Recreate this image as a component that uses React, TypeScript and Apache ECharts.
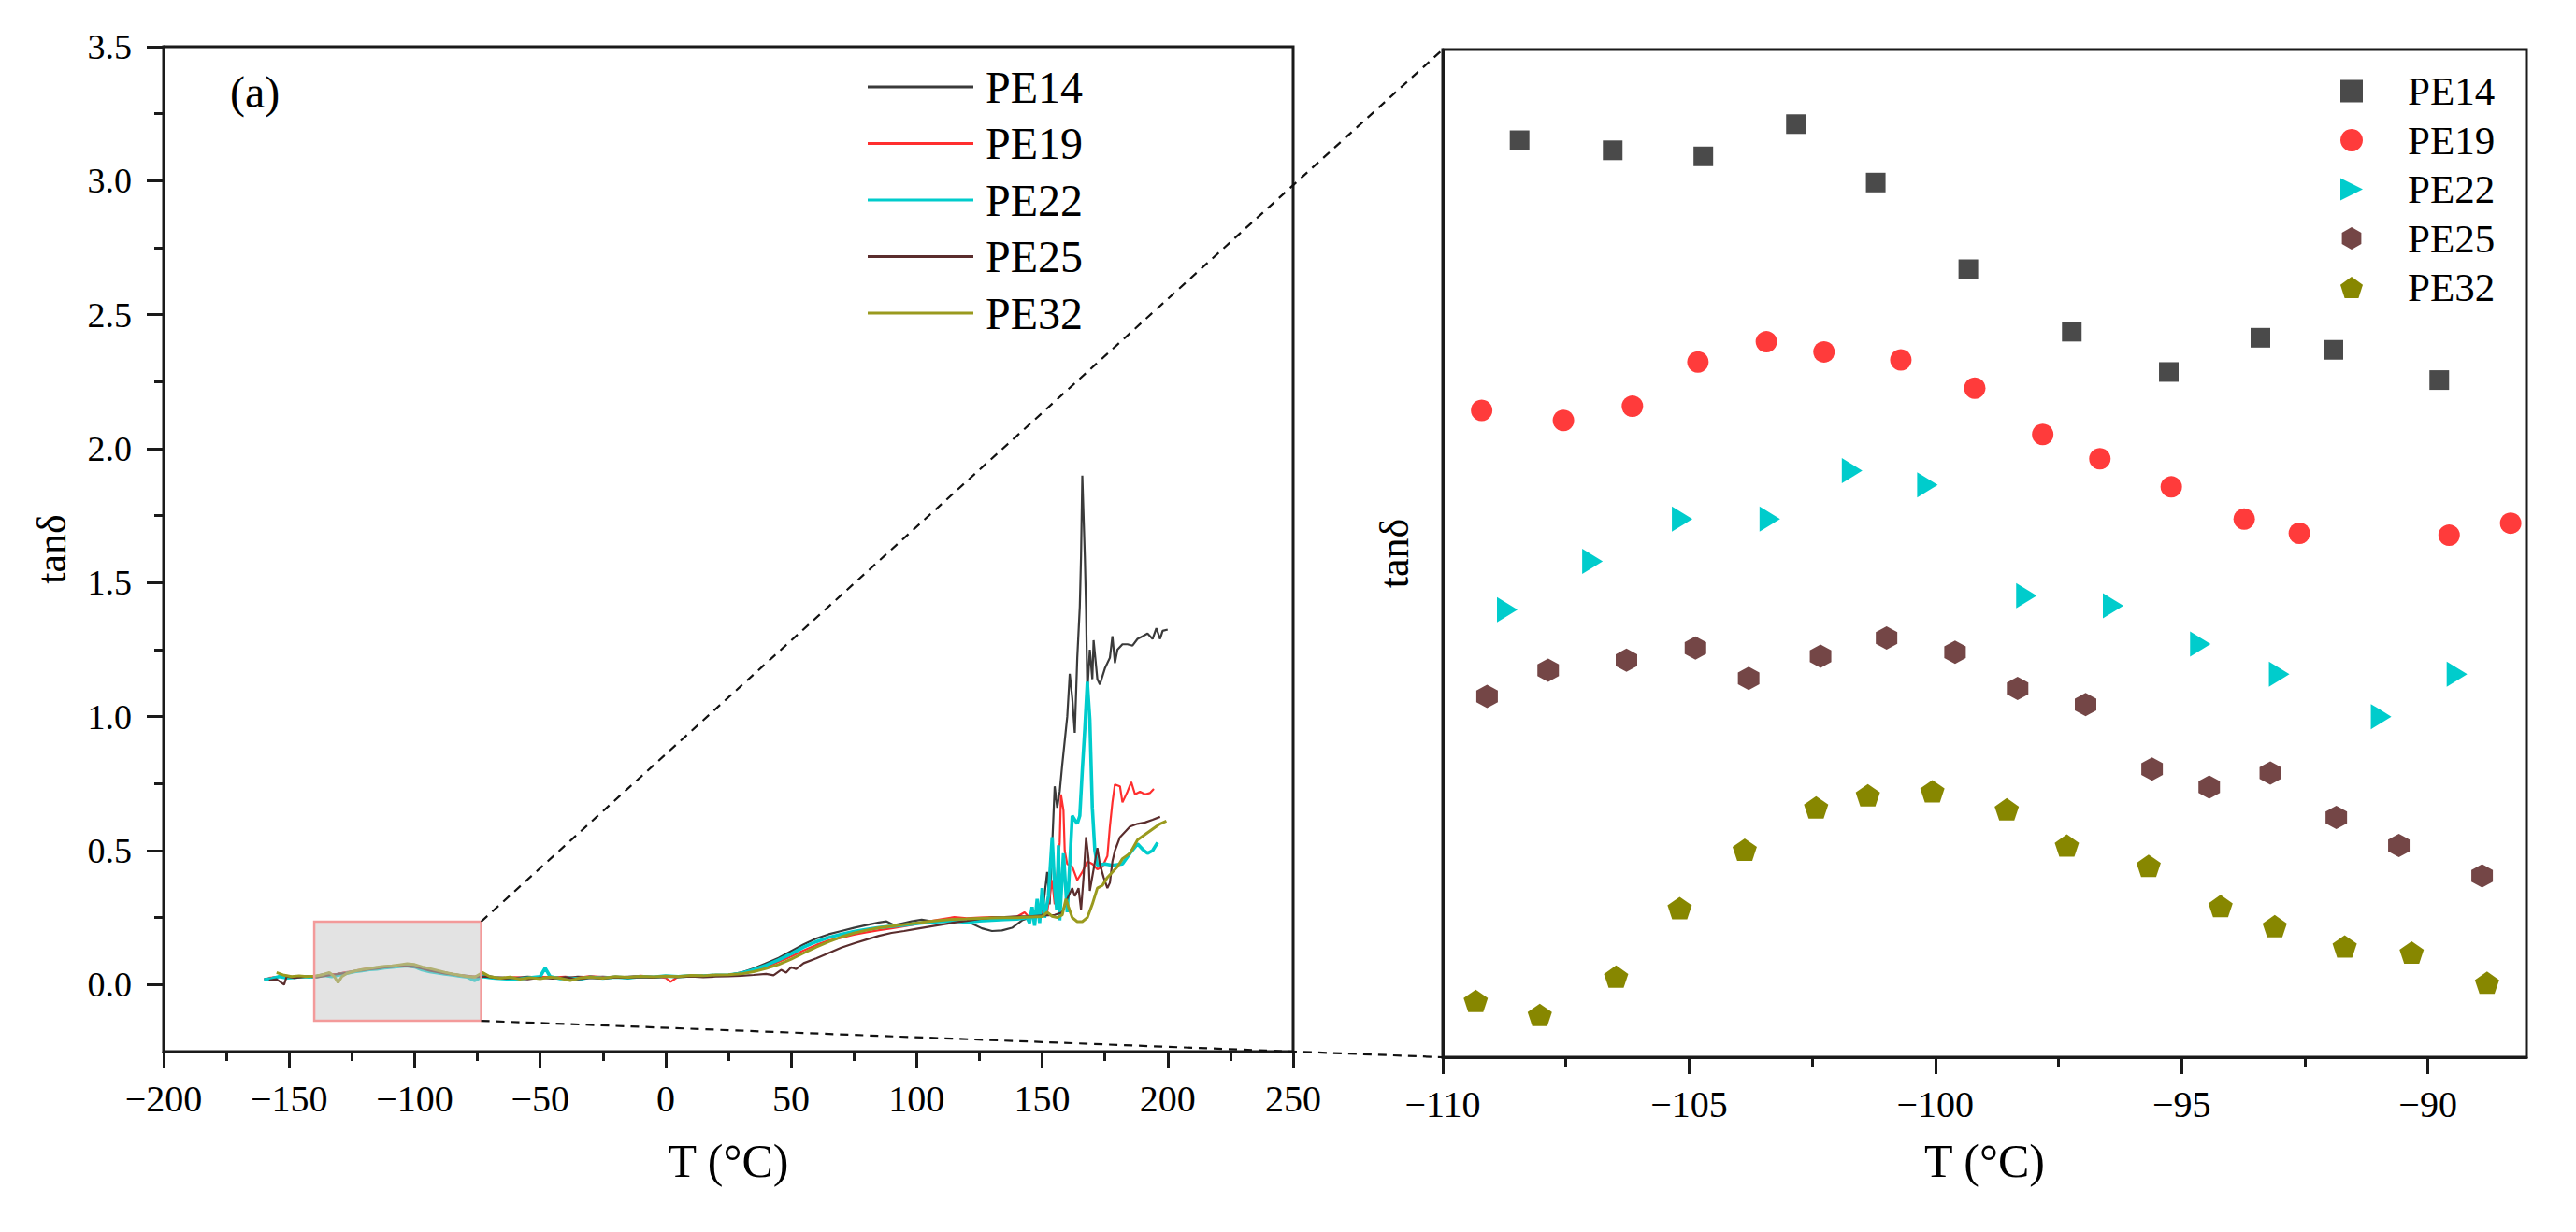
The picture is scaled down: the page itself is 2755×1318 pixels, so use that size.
import { useEffect, useRef } from 'react'
import * as echarts from 'echarts'

const FONT = 'Liberation Serif'

const seriesNames = ['PE14', 'PE19', 'PE22', 'PE25', 'PE32']
const lineColors = ['#3a3a3a', '#ff2e2e', '#00cccc', '#5a2d2d', '#9a9a1e']
const lineWidths = [2.2, 2.2, 3.6, 2.2, 3]
const markerColors = ['#4a4a4a', '#ff3b3b', '#00cccc', '#744646', '#878700']

// full-range curves, [T (°C), tanδ]
const pe14Curve: [number, number][] = [
  [-160, 0.02], [-157, 0.025], [-154, 0.03], [-151, 0.028], [-148, 0.03], [-145, 0.032], [-142, 0.03], [-139, 0.033],
  [-136, 0.04], [-133, 0.035], [-130, 0.042], [-127, 0.045], [-124, 0.05], [-121, 0.053], [-118, 0.058], [-115, 0.06],
  [-112, 0.063], [-109, 0.066], [-106, 0.069], [-103, 0.072], [-100, 0.07], [-97, 0.062], [-94, 0.055], [-91, 0.05],
  [-88, 0.045], [-85, 0.04], [-82, 0.036], [-79, 0.033], [-76, 0.03], [-72, 0.035], [-68, 0.028], [-64, 0.026],
  [-60, 0.025], [-55, 0.03], [-50, 0.027], [-45, 0.028], [-40, 0.025], [-35, 0.03], [-30, 0.028], [-25, 0.03],
  [-20, 0.027], [-15, 0.03], [-10, 0.032], [-5, 0.028], [0, 0.03], [5, 0.031], [10, 0.03], [15, 0.033], [20, 0.035],
  [25, 0.036], [30, 0.045], [35, 0.06], [40, 0.08], [45, 0.1], [50, 0.125], [55, 0.15], [60, 0.172], [65, 0.188],
  [70, 0.2], [75, 0.212], [80, 0.222], [85, 0.232], [88, 0.236], [91, 0.222], [94, 0.228], [98, 0.236], [102, 0.242],
  [106, 0.236], [110, 0.234], [114, 0.238], [118, 0.236], [122, 0.228], [126, 0.21], [130, 0.2], [134, 0.202],
  [138, 0.212], [142, 0.24], [145, 0.25], [148, 0.26], [150, 0.255], [152, 0.42], [153, 0.3], [155, 0.74], [156, 0.66],
  [157, 0.72], [158, 0.82], [160, 1.0], [161, 1.16], [162, 1.07], [163, 0.94], [164, 1.22], [165, 1.41], [165.5, 1.6],
  [166, 1.9], [167, 1.6], [167.5, 1.4], [168, 1.09], [169, 1.25], [170, 1.14], [170.5, 1.285], [172, 1.14],
  [173, 1.12], [175, 1.18], [177, 1.22], [178, 1.3], [179, 1.2], [180, 1.25], [182, 1.27], [184, 1.27], [186, 1.265],
  [188, 1.29], [190, 1.3], [192, 1.31], [194, 1.29], [195.5, 1.33], [197, 1.29], [198, 1.32], [200, 1.325],
]

const pe19Curve: [number, number][] = [
  [-158, 0.025], [-155, 0.028], [-152, 0.035], [-149, 0.03], [-146, 0.028], [-143, 0.032], [-140, 0.03], [-137, 0.034],
  [-134, 0.04], [-131, 0.038], [-128, 0.045], [-125, 0.05], [-122, 0.055], [-119, 0.06], [-116, 0.062], [-113, 0.065],
  [-110, 0.067], [-107, 0.07], [-104, 0.072], [-101, 0.07], [-98, 0.063], [-95, 0.058], [-92, 0.05], [-89, 0.046],
  [-86, 0.042], [-83, 0.037], [-80, 0.033], [-77, 0.03], [-73, 0.032], [-69, 0.027], [-65, 0.025], [-60, 0.028],
  [-55, 0.024], [-50, 0.03], [-45, 0.027], [-40, 0.03], [-35, 0.025], [-30, 0.032], [-25, 0.028], [-20, 0.03],
  [-15, 0.027], [-10, 0.033], [-5, 0.03], [0, 0.025], [2, 0.01], [5, 0.03], [10, 0.032], [15, 0.03], [20, 0.034],
  [25, 0.035], [30, 0.04], [35, 0.05], [40, 0.065], [45, 0.085], [50, 0.105], [55, 0.128], [60, 0.148], [65, 0.165],
  [70, 0.175], [75, 0.186], [80, 0.195], [85, 0.203], [90, 0.21], [95, 0.218], [100, 0.226], [105, 0.236],
  [110, 0.244], [115, 0.252], [120, 0.248], [125, 0.25], [130, 0.252], [135, 0.25], [140, 0.254], [143, 0.27],
  [145, 0.25], [148, 0.262], [150, 0.27], [152, 0.27], [154, 0.39], [155, 0.3], [157, 0.53], [157.5, 0.71],
  [158.5, 0.65], [159, 0.5], [160, 0.45], [162, 0.44], [164, 0.39], [166, 0.42], [168, 0.46], [170, 0.45],
  [172, 0.43], [174, 0.44], [176, 0.48], [177, 0.59], [178, 0.68], [179, 0.747], [181, 0.74], [182, 0.68],
  [184, 0.72], [185.5, 0.756], [187, 0.71], [189, 0.72], [191, 0.71], [193, 0.715], [194.5, 0.73],
]

const pe22Curve: [number, number][] = [
  [-160, 0.018], [-157, 0.022], [-154, 0.03], [-151, 0.025], [-148, 0.027], [-145, 0.03], [-142, 0.028], [-139, 0.03],
  [-136, 0.034], [-133, 0.03], [-130, 0.036], [-127, 0.042], [-124, 0.048], [-121, 0.052], [-118, 0.056], [-115, 0.058],
  [-112, 0.062], [-109, 0.065], [-106, 0.068], [-103, 0.07], [-100, 0.066], [-97, 0.055], [-94, 0.048], [-91, 0.044],
  [-88, 0.04], [-85, 0.036], [-82, 0.032], [-79, 0.028], [-76, 0.015], [-73, 0.03], [-69, 0.025], [-65, 0.022],
  [-60, 0.02], [-55, 0.025], [-50, 0.03], [-48, 0.062], [-46, 0.03], [-42, 0.022], [-38, 0.025], [-34, 0.02],
  [-30, 0.028], [-25, 0.024], [-20, 0.028], [-15, 0.025], [-10, 0.03], [-5, 0.028], [0, 0.032], [5, 0.03],
  [10, 0.033], [15, 0.032], [20, 0.035], [25, 0.036], [30, 0.042], [35, 0.055], [40, 0.072], [45, 0.092],
  [50, 0.115], [55, 0.14], [60, 0.16], [65, 0.176], [70, 0.188], [75, 0.198], [80, 0.206], [85, 0.213], [90, 0.218],
  [95, 0.222], [100, 0.228], [105, 0.232], [110, 0.236], [115, 0.238], [120, 0.232], [125, 0.238], [130, 0.24],
  [135, 0.243], [140, 0.245], [144, 0.25], [145, 0.23], [146, 0.29], [147, 0.22], [148, 0.32], [149, 0.23],
  [150, 0.36], [151, 0.25], [152.5, 0.33], [154, 0.55], [155, 0.36], [155.8, 0.28], [156.5, 0.52], [157, 0.24],
  [158.5, 0.49], [160, 0.27], [161, 0.45], [162, 0.63], [164, 0.6], [165, 0.63], [166, 0.8], [167, 0.955],
  [168, 1.13], [169, 0.99], [170, 0.66], [171, 0.5], [172, 0.445], [175, 0.45], [178, 0.445], [182, 0.45],
  [185, 0.49], [188, 0.525], [190, 0.505], [192, 0.49], [194, 0.5], [196, 0.53],
]

const pe25Curve: [number, number][] = [
  [-158, 0.015], [-155, 0.02], [-152, 0.0], [-151, 0.03], [-148, 0.025], [-145, 0.028], [-142, 0.03], [-139, 0.027],
  [-136, 0.032], [-133, 0.036], [-130, 0.04], [-127, 0.044], [-124, 0.05], [-121, 0.053], [-118, 0.057], [-115, 0.06],
  [-112, 0.064], [-109, 0.066], [-106, 0.07], [-103, 0.068], [-100, 0.066], [-97, 0.06], [-94, 0.052], [-91, 0.047],
  [-88, 0.042], [-85, 0.038], [-82, 0.034], [-79, 0.03], [-76, 0.028], [-72, 0.03], [-68, 0.025], [-64, 0.022],
  [-60, 0.025], [-55, 0.02], [-50, 0.026], [-45, 0.022], [-40, 0.028], [-35, 0.02], [-30, 0.025], [-25, 0.022],
  [-20, 0.027], [-15, 0.025], [-10, 0.028], [-5, 0.026], [0, 0.03], [5, 0.028], [10, 0.03], [15, 0.028], [20, 0.03],
  [25, 0.031], [30, 0.033], [35, 0.036], [40, 0.04], [43, 0.035], [46, 0.055], [48, 0.045], [50, 0.065], [52, 0.058],
  [55, 0.08], [60, 0.098], [65, 0.118], [70, 0.138], [75, 0.154], [80, 0.168], [85, 0.182], [90, 0.193], [95, 0.2],
  [100, 0.208], [105, 0.216], [110, 0.224], [115, 0.232], [120, 0.238], [125, 0.245], [130, 0.25], [135, 0.252],
  [140, 0.255], [145, 0.255], [150, 0.258], [155, 0.26], [158, 0.27], [160, 0.32], [162, 0.36], [163, 0.33],
  [164.5, 0.36], [165.5, 0.28], [166.5, 0.4], [167.5, 0.55], [168.5, 0.47], [169, 0.35], [170.5, 0.43], [172, 0.51],
  [173, 0.45], [174.5, 0.4], [176, 0.36], [177, 0.38], [178, 0.46], [179, 0.5], [181, 0.55], [183, 0.57],
  [185, 0.59], [188, 0.6], [191, 0.605], [194, 0.615], [197, 0.626],
]

const pe32Curve: [number, number][] = [
  [-155, 0.045], [-152, 0.035], [-149, 0.03], [-146, 0.033], [-143, 0.03], [-140, 0.032], [-137, 0.036], [-134, 0.045],
  [-132, 0.03], [-130.5, 0.007], [-129, 0.03], [-127, 0.042], [-124, 0.05], [-121, 0.056], [-118, 0.06], [-115, 0.065],
  [-112, 0.068], [-109, 0.07], [-106, 0.074], [-103, 0.078], [-100, 0.075], [-97, 0.066], [-94, 0.06], [-91, 0.053],
  [-88, 0.046], [-85, 0.04], [-82, 0.035], [-79, 0.03], [-76, 0.028], [-73, 0.045], [-70, 0.03], [-66, 0.024],
  [-62, 0.028], [-58, 0.02], [-54, 0.026], [-50, 0.022], [-46, 0.028], [-42, 0.024], [-38, 0.015], [-34, 0.025],
  [-30, 0.028], [-25, 0.024], [-20, 0.03], [-15, 0.027], [-10, 0.031], [-5, 0.029], [0, 0.032], [5, 0.03],
  [10, 0.034], [15, 0.033], [20, 0.036], [25, 0.037], [30, 0.04], [35, 0.048], [40, 0.06], [45, 0.075], [50, 0.095],
  [55, 0.118], [60, 0.14], [65, 0.16], [70, 0.178], [75, 0.192], [80, 0.203], [85, 0.212], [90, 0.218], [95, 0.224],
  [100, 0.23], [105, 0.236], [110, 0.24], [115, 0.244], [120, 0.245], [125, 0.247], [130, 0.249], [135, 0.25],
  [140, 0.25], [145, 0.252], [150, 0.254], [152, 0.27], [154, 0.255], [156, 0.25], [158, 0.26], [159.5, 0.32],
  [160.5, 0.29], [162, 0.25], [164, 0.235], [166, 0.235], [168, 0.25], [170, 0.3], [172, 0.36], [174, 0.37],
  [176, 0.4], [178, 0.42], [180, 0.44], [182, 0.47], [185, 0.49], [188, 0.54], [191, 0.56], [194, 0.58],
  [197, 0.6], [199.5, 0.61],
]

// zoomed window, [T (°C), tanδ]
const pe14Inset: [number, number][] = [
  [-108.44, 0.0755], [-106.55, 0.075], [-104.71, 0.0747], [-102.83, 0.0763], [-101.21, 0.0734], [-99.33, 0.0691],
  [-97.23, 0.066], [-95.26, 0.064], [-93.4, 0.0657], [-91.92, 0.0651], [-89.77, 0.0636],
]
const pe19Inset: [number, number][] = [
  [-109.21, 0.0621], [-107.55, 0.0616], [-106.15, 0.0623], [-104.82, 0.0645], [-103.43, 0.0655], [-102.26, 0.065],
  [-100.7, 0.0646], [-99.2, 0.0632], [-97.82, 0.0609], [-96.66, 0.0597], [-95.21, 0.0583], [-93.73, 0.0567],
  [-92.61, 0.056], [-89.57, 0.0559], [-88.32, 0.0565],
]
const pe22Inset: [number, number][] = [
  [-108.69, 0.0522], [-106.96, 0.0546], [-105.14, 0.0567], [-103.36, 0.0567], [-101.69, 0.0591], [-100.16, 0.0584],
  [-98.15, 0.0529], [-96.39, 0.0524], [-94.62, 0.0505], [-93.02, 0.049], [-90.95, 0.0469], [-89.41, 0.049],
]
const pe25Inset: [number, number][] = [
  [-109.1, 0.0479], [-107.86, 0.0492], [-106.27, 0.0497], [-104.87, 0.0503], [-103.79, 0.0488], [-102.33, 0.0499],
  [-100.99, 0.0508], [-99.6, 0.0501], [-98.33, 0.0483], [-96.95, 0.0475], [-95.6, 0.0443], [-94.44, 0.0434],
  [-93.2, 0.0441], [-91.86, 0.0419], [-90.59, 0.0405], [-88.9, 0.039],
]
const pe32Inset: [number, number][] = [
  [-109.33, 0.0328], [-108.03, 0.0321], [-106.48, 0.034], [-105.19, 0.0374], [-103.87, 0.0403], [-102.42, 0.0424],
  [-101.37, 0.043], [-100.06, 0.0432], [-98.55, 0.0423], [-97.33, 0.0405], [-95.67, 0.0395], [-94.21, 0.0375],
  [-93.11, 0.0365], [-91.69, 0.0355], [-90.33, 0.0352], [-88.8, 0.0337],
]

const curves = [pe14Curve, pe19Curve, pe22Curve, pe25Curve, pe32Curve]
const insets = [pe14Inset, pe19Inset, pe22Inset, pe25Inset, pe32Inset]

// axis ranges and ticks
const tRange = [-200, 250]
const tanRange = [-0.25, 3.5]
const tanTicks = [0, 0.5, 1, 1.5, 2, 2.5, 3, 3.5]
const tanMinorTicks = [0.25, 0.75, 1.25, 1.75, 2.25, 2.75, 3.25]
const insetTRange = [-110, -88]
const insetTanRange = [0.03, 0.08]
const insetTTicks = [-110, -105, -100, -95, -90]
const insetTMinorTicks = [-107.5, -102.5, -97.5, -92.5]
// shaded region in (a)
const zoomBoxT = [-140, -73.5]
const zoomBoxTan = [-0.135, 0.235]

const insetSymbols = [
  'rect',
  'circle',
  'path://M0,0L1,0.5L0,1Z',
  'path://M50,0L93.3,25L93.3,75L50,100L6.7,75L6.7,25Z',
  'path://M50,0L97.6,34.5L79.4,90.5L20.6,90.5L2.4,34.5Z',
]
const insetSizes: (number | number[])[] = [21, 23, [22, 27], [23, 25], [26, 24]]

const minus = (v: number) => String(v).replace('-', '\u2212')
const axisLine = { show: true, onZero: false, lineStyle: { color: '#1a1a1a', width: 3 } }
const tickStyle = { color: '#1a1a1a', width: 3 }
const labelFont = { fontFamily: FONT, color: '#000' }

export default function App() {
  const chartRef = useRef<HTMLDivElement>(null)

  useEffect(() => {
    document.body.style.margin = '0'
    if (!chartRef.current) return
    const chart = echarts.init(chartRef.current, undefined, { renderer: 'svg' })

    const lineSeries = seriesNames.map((name, i) => ({
      name,
      type: 'line',
      xAxisIndex: 0,
      yAxisIndex: 0,
      symbol: 'none',
      data: curves[i],
      lineStyle: { color: lineColors[i], width: lineWidths[i] },
      itemStyle: { color: lineColors[i] },
    }))

    const scatterSeries = seriesNames.map((name, i) => ({
      name: name + ' (b)',
      type: 'scatter',
      xAxisIndex: 1,
      yAxisIndex: 2,
      symbol: insetSymbols[i],
      symbolSize: insetSizes[i],
      data: insets[i],
      itemStyle: { color: markerColors[i], opacity: 1 },
    }))

    chart.setOption({
      animation: false,
      backgroundColor: '#fff',
      grid: [
        { left: 175, top: 50, width: 1208, height: 1075, show: true, borderColor: '#1a1a1a', borderWidth: 3 },
        { left: 1543, top: 53, width: 1159, height: 1078, show: true, borderColor: '#1a1a1a', borderWidth: 3 },
      ],
      xAxis: [
        {
          type: 'value',
          gridIndex: 0,
          position: 'bottom',
          min: tRange[0],
          max: tRange[1],
          interval: 50,
          axisLine,
          axisTick: { show: true, length: 18, lineStyle: tickStyle },
          minorTick: { show: true, splitNumber: 2, length: 10, lineStyle: tickStyle },
          splitLine: { show: false },
          axisLabel: { ...labelFont, fontSize: 40, margin: 30, formatter: minus },
          name: 'T (°C)',
          nameLocation: 'middle',
          nameGap: 92,
          nameTextStyle: { ...labelFont, fontSize: 50 },
        },
        {
          type: 'value',
          gridIndex: 1,
          position: 'bottom',
          min: insetTRange[0],
          max: insetTRange[1],
          axisLine,
          axisTick: { show: true, length: 18, lineStyle: tickStyle, customValues: insetTTicks },
          splitLine: { show: false },
          axisLabel: { ...labelFont, fontSize: 40, margin: 30, formatter: minus, customValues: insetTTicks },
          name: 'T (°C)',
          nameLocation: 'middle',
          nameGap: 86,
          nameTextStyle: { ...labelFont, fontSize: 50 },
        },
        {
          type: 'value',
          gridIndex: 1,
          position: 'bottom',
          min: insetTRange[0],
          max: insetTRange[1],
          axisLine: { show: false, onZero: false },
          axisTick: { show: true, length: 10, lineStyle: tickStyle, customValues: insetTMinorTicks },
          splitLine: { show: false },
          axisLabel: { show: false },
        },
      ],
      yAxis: [
        {
          type: 'value',
          gridIndex: 0,
          position: 'left',
          min: tanRange[0],
          max: tanRange[1],
          interval: 0.25,
          axisLine,
          axisTick: { show: true, length: 18, lineStyle: tickStyle, customValues: tanTicks },
          splitLine: { show: false },
          axisLabel: {
            ...labelFont,
            fontSize: 38,
            margin: 34,
            customValues: tanTicks,
            formatter: (v: number) => v.toFixed(1),
          },
          name: 'tanδ',
          nameLocation: 'middle',
          nameGap: 98,
          nameRotate: 90,
          nameTextStyle: { ...labelFont, fontSize: 44 },
        },
        {
          type: 'value',
          gridIndex: 0,
          position: 'left',
          min: tanRange[0],
          max: tanRange[1],
          interval: 0.25,
          axisLine: { show: false, onZero: false },
          axisTick: { show: true, length: 10, lineStyle: tickStyle, customValues: tanMinorTicks },
          splitLine: { show: false },
          axisLabel: { show: false },
        },
        {
          type: 'value',
          gridIndex: 1,
          position: 'left',
          min: insetTanRange[0],
          max: insetTanRange[1],
          axisLine,
          axisTick: { show: false },
          splitLine: { show: false },
          axisLabel: { show: false },
          name: 'tanδ',
          nameLocation: 'middle',
          nameGap: 30,
          nameRotate: 90,
          nameTextStyle: { ...labelFont, fontSize: 44 },
        },
      ],
      legend: [
        {
          data: seriesNames.map((name) => ({ name, icon: 'rect' })),
          orient: 'vertical',
          left: 923,
          top: 64,
          itemWidth: 113,
          itemHeight: 3,
          itemGap: 12.5,
          selectedMode: false,
          textStyle: { ...labelFont, fontSize: 48, lineHeight: 48, padding: [0, 0, 0, 8] },
        },
        {
          data: scatterSeries.map((s) => s.name),
          formatter: (n: string) => n.split(' ')[0],
          orient: 'vertical',
          left: 2498,
          top: 71,
          itemWidth: 24,
          itemHeight: 24,
          itemGap: 9.5,
          selectedMode: false,
          textStyle: { ...labelFont, fontSize: 43, lineHeight: 43, padding: [0, 0, 0, 43] },
        },
      ],
      series: [...lineSeries, ...scatterSeries],
    })

    // shaded window and dashed connectors, placed through the axes
    const boxTL = chart.convertToPixel({ xAxisIndex: 0, yAxisIndex: 0 }, [zoomBoxT[0], zoomBoxTan[1]])
    const boxBR = chart.convertToPixel({ xAxisIndex: 0, yAxisIndex: 0 }, [zoomBoxT[1], zoomBoxTan[0]])
    const insetTL = chart.convertToPixel({ xAxisIndex: 1, yAxisIndex: 2 }, [insetTRange[0], insetTanRange[1]])
    const insetBL = chart.convertToPixel({ xAxisIndex: 1, yAxisIndex: 2 }, [insetTRange[0], insetTanRange[0]])
    const dash = { stroke: '#111', lineWidth: 2.2, lineDash: [9, 7] }

    chart.setOption({
      graphic: [
        {
          id: 'box',
          type: 'rect',
          z: 50,
          shape: { x: boxTL[0], y: boxTL[1], width: boxBR[0] - boxTL[0], height: boxBR[1] - boxTL[1] },
          style: { fill: 'rgba(200,200,200,0.5)', stroke: '#f39a9a', lineWidth: 2.5 },
        },
        {
          id: 'upper',
          type: 'line',
          z: 51,
          shape: { x1: boxBR[0], y1: boxTL[1], x2: insetTL[0], y2: insetTL[1] },
          style: dash,
        },
        {
          id: 'lower',
          type: 'line',
          z: 51,
          shape: { x1: boxBR[0], y1: boxBR[1], x2: insetBL[0], y2: insetBL[1] },
          style: dash,
        },
        {
          id: 'tag',
          type: 'text',
          z: 52,
          x: 246,
          y: 74,
          style: { text: '(a)', font: `48px ${FONT}`, fill: '#000' },
        },
      ],
    })

    return () => {
      chart.dispose()
    }
  }, [])

  return <div ref={chartRef} style={{ width: '2755px', height: '1318px' }}></div>
}
